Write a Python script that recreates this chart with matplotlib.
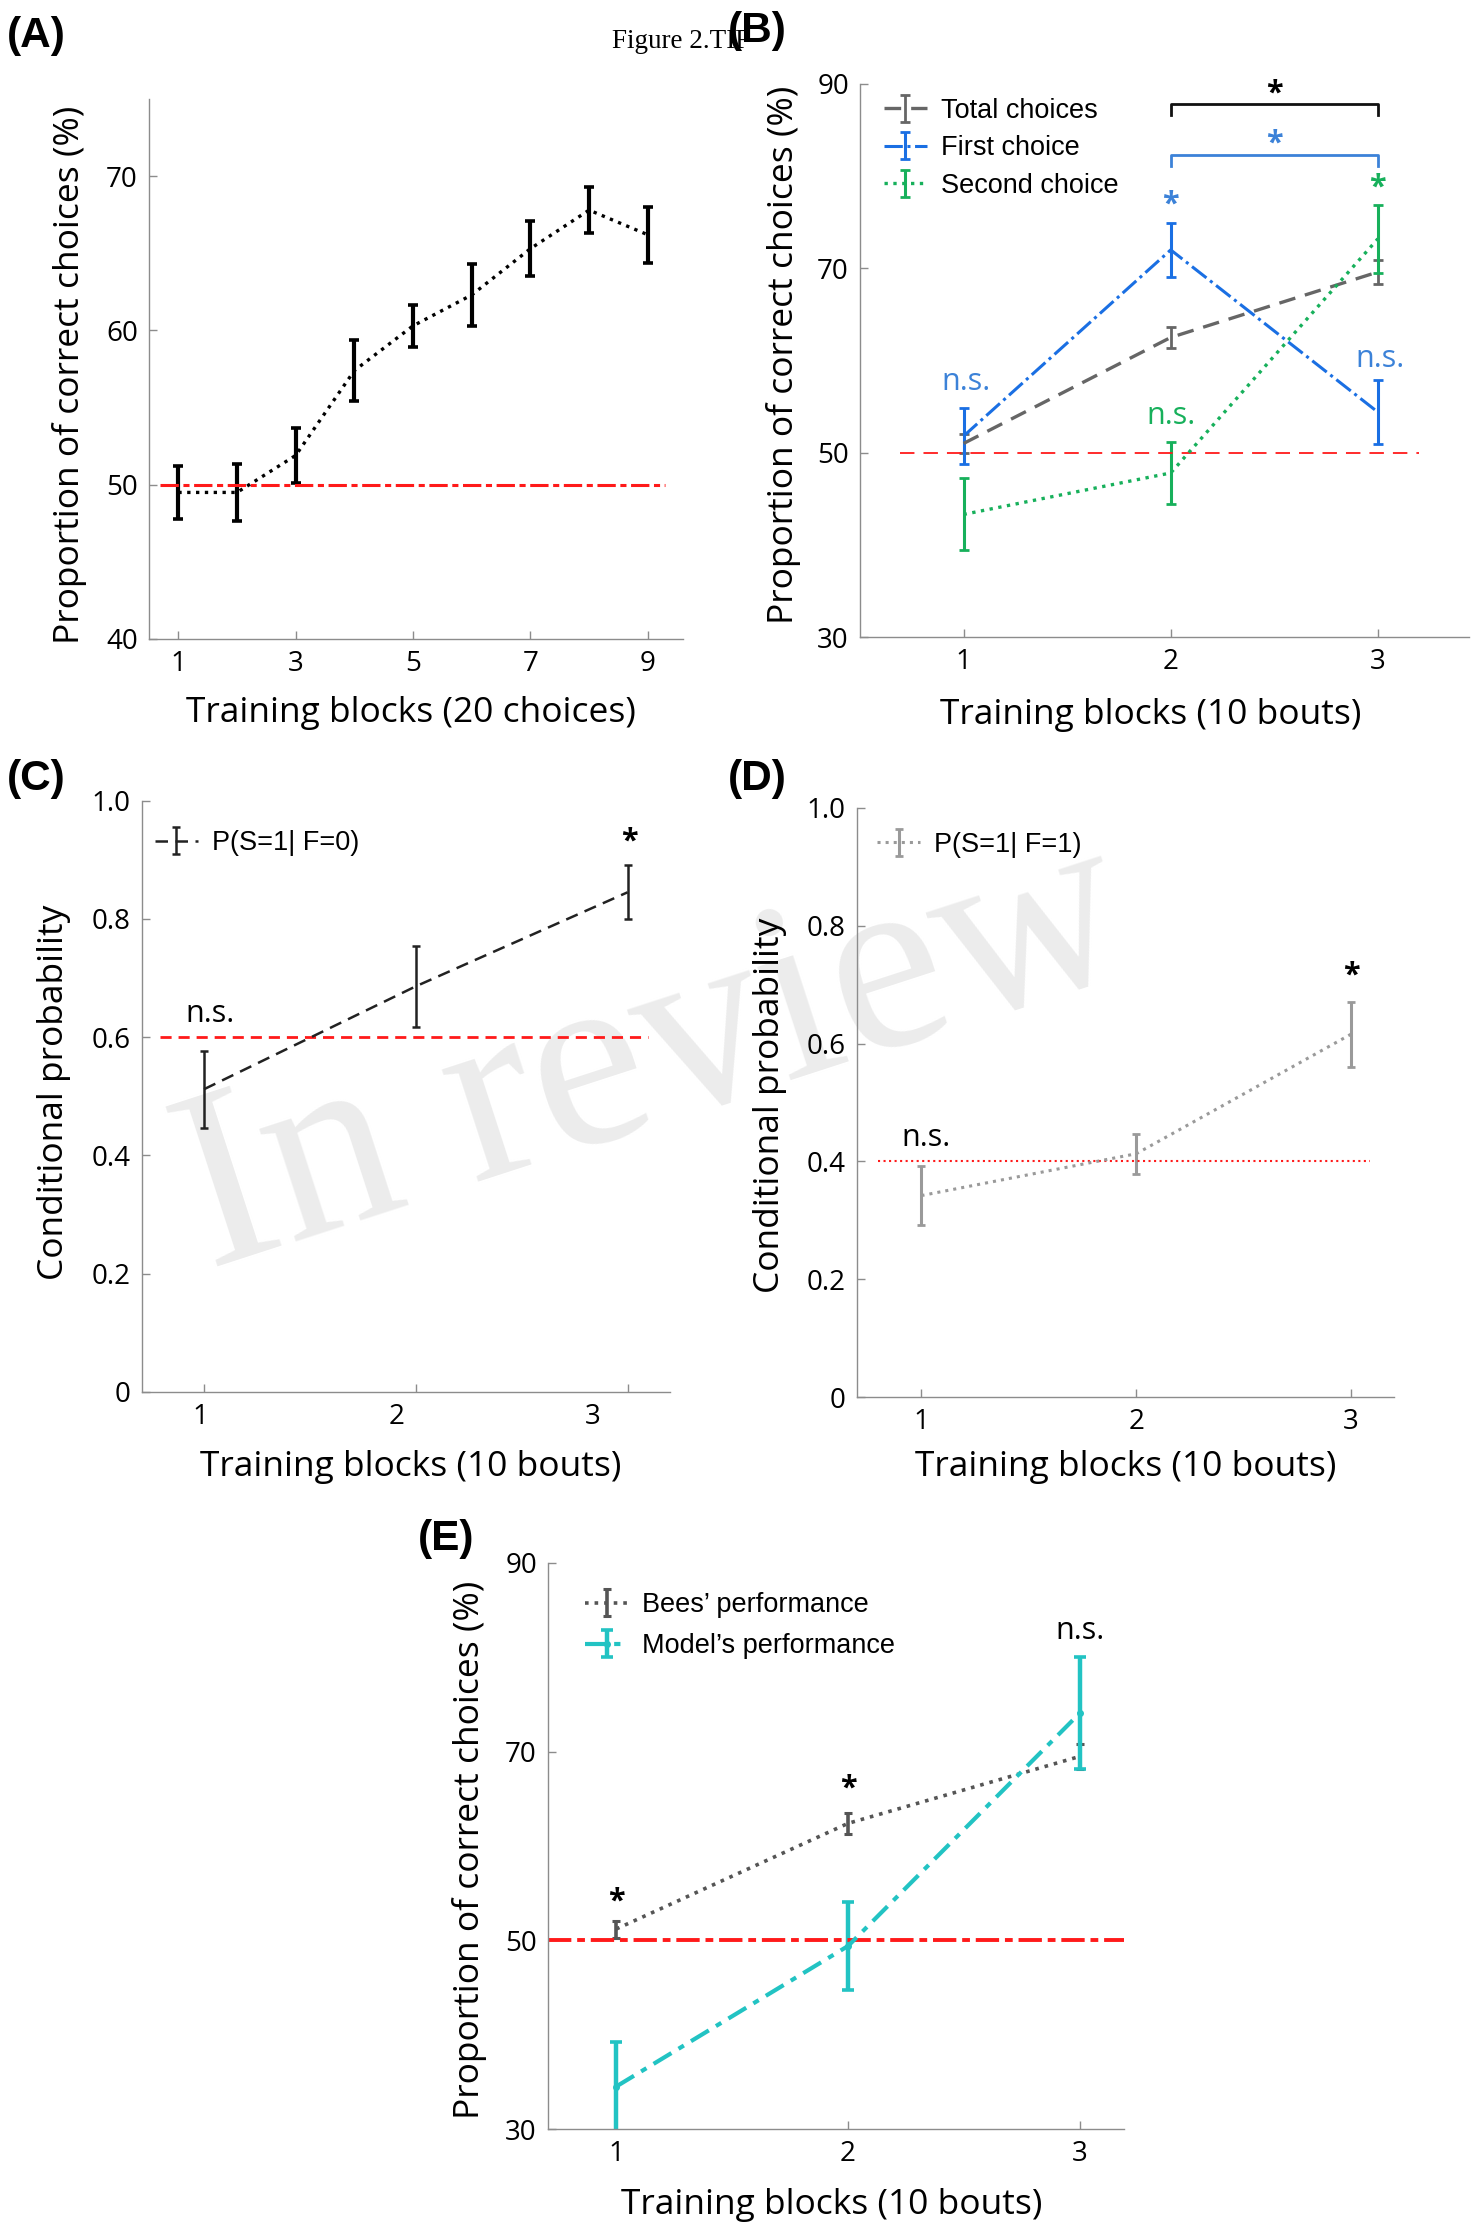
import numpy as np
import matplotlib
matplotlib.use("Agg")
import matplotlib.pyplot as plt

# ---------------- data ----------------
# (A) 9 training blocks of 20 choices
blocks_a = [1, 2, 3, 4, 5, 6, 7, 8, 9]
correct_a = [49.5, 49.5, 51.9, 57.4, 60.3, 62.3, 65.3, 67.8, 66.2]
err_a = [1.7, 1.85, 1.8, 2.0, 1.35, 2.0, 1.8, 1.5, 1.8]

# (B) 3 training blocks of 10 bouts
blocks = [1, 2, 3]
total_b = [51.0, 62.5, 69.6]
total_err_b = [1.0, 1.1, 1.3]
first_b = [51.8, 72.0, 54.4]
first_err_b = [3.0, 2.9, 3.5]
second_b = [43.3, 47.8, 73.2]
second_err_b = [3.9, 3.4, 3.7]
bracket_b = [87.8, 82.3]

# (C) P(S=1 | F=0)
cond_c = [0.512, 0.686, 0.845]
cond_err_c = [0.065, 0.068, 0.046]

# (D) P(S=1 | F=1)
cond_d = [0.342, 0.413, 0.616]
cond_err_d = [0.050, 0.034, 0.055]

# (E) bees vs model
bees_e = [51.2, 62.4, 69.5]
bees_err_e = [0.9, 1.1, 1.3]
model_e = [34.5, 49.4, 74.1]
model_err_e = [4.7, 4.7, 5.9]

chance_pct = 50
chance_c = 0.6
chance_d = 0.4

# ---------------- style ----------------
plt.rcParams["font.family"] = ["Open Sans", "DejaVu Sans"]
W, H = 1481, 2224
fig = plt.figure(figsize=(W / 100, H / 100), dpi=100)

BLUE = "#1a6fe3"
BLUE_TXT = "#3c82d8"
GREEN = "#17b05b"
GRAY = "#666666"
LGRAY = "#9a9a9a"
CYAN = "#22c3c3"
RED = "#ff1a1a"
LEG = {"family": "Liberation Sans", "size": 19.5}


def box(l, r, t, b):
    return [l / W, 1 - b / H, (r - l) / W, (b - t) / H]


def style(ax):
    for s in ("top", "right"):
        ax.spines[s].set_visible(False)
    for s in ("left", "bottom"):
        ax.spines[s].set_color("#8c8c8c")
        ax.spines[s].set_linewidth(1.0)
    ax.tick_params(direction="in", length=6, width=1, color="#8c8c8c",
                   labelsize=20, pad=8)
    ax.patch.set_alpha(0)


def labels(ax, xl, yl, xpos, ypos):
    ax.set_xlabel(xl, fontsize=25.5)
    ax.set_ylabel(yl, fontsize=25.5)
    ax.xaxis.set_label_coords(*xpos)
    ax.yaxis.set_label_coords(*ypos)


def legend(ax, anchor, spacing=0.45):
    ax.legend(loc="upper left", bbox_to_anchor=anchor, frameon=False,
              prop=LEG, borderpad=0, borderaxespad=0, handlelength=1.6,
              handletextpad=0.5, labelspacing=spacing)


# watermark
fig.text(655 / W, 1 - 1060 / H, "In review", rotation=18, fontsize=185,
         family="Liberation Serif", color="#ececec", ha="center",
         va="center", rotation_mode="anchor", zorder=-5)

fig.text(612 / W, 1 - 41 / H, "Figure 2.TIF", family="Liberation Serif",
         fontsize=19.5, va="center", ha="left")

for lab, x, y in [("(A)", 7, 36), ("(B)", 728, 31), ("(C)", 7, 779),
                  ("(D)", 728, 779), ("(E)", 418, 1539)]:
    fig.text(x / W, 1 - y / H, lab, family="Liberation Sans",
             fontweight="bold", fontsize=30.5, va="center", ha="left")

# ---------------- (A) ----------------
axA = fig.add_axes(box(149, 683, 99, 639))
style(axA)
axA.errorbar(blocks_a, correct_a, yerr=err_a, color="k", ls=":", lw=2.4,
             elinewidth=3.0, capsize=3.6, capthick=2.6)
axA.axhline(chance_pct, xmin=0.021, xmax=0.967, color=RED, lw=2.2,
            dashes=(6, 1.5, 2, 1.5))
axA.set_xlim(0.5, 9.6)
axA.set_ylim(40, 75)
axA.set_xticks([1, 3, 5, 7, 9])
axA.set_yticks([40, 50, 60, 70])
labels(axA, "Training blocks (20 choices)", "Proportion of correct choices (%)",
       (0.49, -0.106), (-0.116, 0.49))

# ---------------- (B) ----------------
axB = fig.add_axes(box(860, 1469, 84, 637))
style(axB)
axB.errorbar(blocks, total_b, yerr=total_err_b, color=GRAY, lw=2.4,
             dashes=(5, 3), elinewidth=2.0, capsize=3.4, capthick=2.0,
             label="Total choices")
axB.errorbar(blocks, first_b, yerr=first_err_b, color=BLUE, lw=2.2,
             dashes=(6, 1.5, 1, 1.5), elinewidth=2.2, capsize=3.4,
             capthick=2.0, label="First choice")
axB.errorbar(blocks, second_b, yerr=second_err_b, color=GREEN, lw=2.4,
             ls=":", elinewidth=2.2, capsize=3.4, capthick=2.0,
             label="Second choice")
axB.axhline(chance_pct, xmin=0.065, xmax=0.918, color=RED, lw=1.3,
            dashes=(8, 5))
for lvl, c in zip(bracket_b, ["#111111", BLUE_TXT]):
    axB.plot([blocks[1], blocks[1], blocks[2], blocks[2]],
             [lvl - 1.2, lvl, lvl, lvl - 1.2], color=c, lw=2.0)
axB.text(2.5, 89.0, "*", color="k", fontsize=22, fontweight="bold",
         ha="center", va="center")
axB.text(2.5, 83.5, "*", color=BLUE_TXT, fontsize=22, fontweight="bold",
         ha="center", va="center")
axB.text(2.0, 76.9, "*", color=BLUE_TXT, fontsize=22, fontweight="bold",
         ha="center", va="center")
axB.text(3.0, 78.8, "*", color=GREEN, fontsize=22, fontweight="bold",
         ha="center", va="center")
axB.text(1.01, 57.7, "n.s.", color=BLUE_TXT, fontsize=22, ha="center",
         va="center")
axB.text(2.0, 54.0, "n.s.", color=GREEN, fontsize=22, ha="center",
         va="center")
axB.text(3.01, 60.2, "n.s.", color=BLUE_TXT, fontsize=22, ha="center",
         va="center")
axB.set_xlim(0.5, 3.44)
axB.set_ylim(30, 90)
axB.set_xticks(blocks)
axB.set_yticks([30, 50, 70, 90])
labels(axB, "Training blocks (10 bouts)", "Proportion of correct choices (%)",
       (0.477, -0.11), (-0.097, 0.51))
legend(axB, (0.039, 0.975), spacing=0.42)

# ---------------- (C) ----------------
axC = fig.add_axes(box(141.6, 670, 800.6, 1392))
style(axC)
axC.errorbar(blocks, cond_c, yerr=cond_err_c, color="#222222", lw=1.8,
             dashes=(5, 3), elinewidth=1.8, capsize=3.0, capthick=1.8,
             label="P(S=1| F=0)")
axC.axhline(chance_c, xmin=0.034, xmax=0.958, color=RED, lw=2.0,
            dashes=(4, 2.5))
axC.text(1.03, 0.639, "n.s.", fontsize=22, ha="center", va="center")
axC.text(3.01, 0.93, "*", fontsize=22, fontweight="bold", ha="center",
         va="center")
axC.set_xlim(0.705, 3.2)
axC.set_ylim(0, 1)
axC.set_xticks(blocks)
axC.set_xticklabels([])
axC.set_xticks([0.984, 1.91, 2.836], minor=True)
axC.set_xticklabels(["1", "2", "3"], minor=True)
axC.tick_params(axis="x", which="minor", length=0, labelsize=20, pad=8)
axC.set_yticks([0, 0.2, 0.4, 0.6, 0.8, 1.0])
axC.set_yticklabels(["0", "0.2", "0.4", "0.6", "0.8", "1.0"])
labels(axC, "Training blocks (10 bouts)", "Conditional probability",
       (0.509, -0.098), (-0.134, 0.506))
legend(axC, (0.025, 0.950))

# ---------------- (D) ----------------
axD = fig.add_axes(box(857, 1394, 808, 1397))
style(axD)
axD.errorbar(blocks, cond_d, yerr=cond_err_d, color=LGRAY, lw=2.2, ls=":",
             elinewidth=2.2, capsize=3.0, capthick=2.0,
             label="P(S=1| F=1)")
axD.axhline(chance_d, xmin=0.04, xmax=0.956, color=RED, lw=1.5, ls=":")
axD.text(1.02, 0.44, "n.s.", fontsize=22, ha="center", va="center")
axD.text(3.0, 0.716, "*", fontsize=22, fontweight="bold", ha="center",
         va="center")
axD.set_xlim(0.70, 3.2)
axD.set_ylim(0, 1)
axD.set_xticks(blocks)
axD.set_yticks([0, 0.2, 0.4, 0.6, 0.8, 1.0])
axD.set_yticklabels(["0", "0.2", "0.4", "0.6", "0.8", "1.0"])
labels(axD, "Training blocks (10 bouts)", "Conditional probability",
       (0.50, -0.09), (-0.130, 0.496))
legend(axD, (0.037, 0.960))

# ---------------- (E) ----------------
axE = fig.add_axes(box(548, 1124, 1563, 2129))
style(axE)
axE.errorbar(blocks, bees_e, yerr=bees_err_e, color="#555555", lw=2.6,
             ls=":", elinewidth=2.6, capsize=3.0, capthick=2.2,
             label="Bees\u2019 performance")
axE.errorbar(blocks, model_e, yerr=model_err_e, color=CYAN, lw=3.0,
             dashes=(5, 2, 1.5, 2), marker="o", ms=4, elinewidth=3.2,
             capsize=4.0, capthick=2.6, label="Model\u2019s performance")
axE.axhline(chance_pct, color=RED, lw=2.8, dashes=(6, 1.5, 2, 1.5))
axE.text(1.0, 54.1, "*", fontsize=22, fontweight="bold", ha="center",
         va="center")
axE.text(2.0, 66.1, "*", fontsize=22, fontweight="bold", ha="center",
         va="center")
axE.text(3.0, 82.8, "n.s.", fontsize=22, ha="center", va="center")
axE.set_xlim(0.706, 3.19)
axE.set_ylim(30, 90)
axE.set_xticks(blocks)
axE.set_yticks([30, 50, 70, 90])
labels(axE, "Training blocks (10 bouts)", "Proportion of correct choices (%)",
       (0.493, -0.104), (-0.106, 0.493))
legend(axE, (0.064, 0.948), spacing=0.55)

fig.savefig("out.png", dpi=100)
